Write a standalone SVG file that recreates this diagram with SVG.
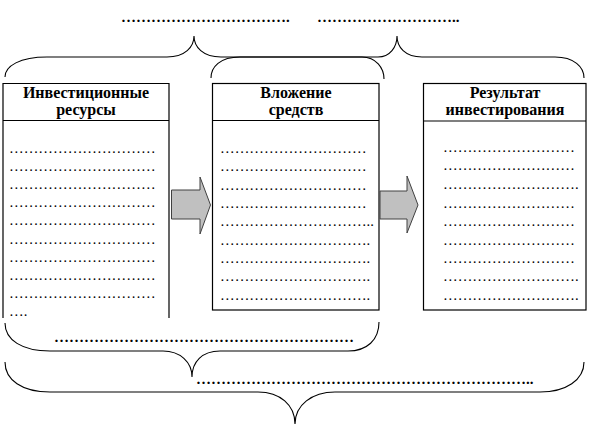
<svg xmlns="http://www.w3.org/2000/svg" width="595" height="424" viewBox="0 0 595 424">
<style>
.box{fill:#fff;stroke:#000;stroke-width:1.2}
.ln{fill:none;stroke:#000;stroke-width:1.2}
.br{fill:none;stroke:#000;stroke-width:1.1}
.hd{font-family:"Liberation Serif","DejaVu Serif",serif;font-weight:bold;font-size:16px;text-anchor:middle;fill:#000}
.dt{font-family:"Liberation Serif","DejaVu Serif",serif;font-size:14.67px;fill:#000}
.bd{font-family:"Liberation Serif","DejaVu Serif",serif;font-size:15px;font-weight:bold;fill:#000}
.ar{fill:#c0c0c0;stroke:#404040;stroke-width:1}
</style>
<rect width="595" height="424" fill="#fff"/>
<g id="node-resources">
<path class="ln" d="M3,318 V83.5 H169 V318 M3,120.5 H169"/>
<text class="hd" x="86" y="98">Инвестиционные</text>
<text class="hd" x="86" y="115">ресурсы</text>
<text class="dt" x="9" y="153">&#8230;&#8230;&#8230;&#8230;&#8230;&#8230;&#8230;&#8230;&#8230;&#8230;</text>
<text class="dt" x="9" y="171">&#8230;&#8230;&#8230;&#8230;&#8230;&#8230;&#8230;&#8230;&#8230;&#8230;</text>
<text class="dt" x="9" y="189">&#8230;&#8230;&#8230;&#8230;&#8230;&#8230;&#8230;&#8230;&#8230;&#8230;</text>
<text class="dt" x="9" y="207">&#8230;&#8230;&#8230;&#8230;&#8230;&#8230;&#8230;&#8230;&#8230;&#8230;</text>
<text class="dt" x="9" y="225">&#8230;&#8230;&#8230;&#8230;&#8230;&#8230;&#8230;&#8230;&#8230;&#8230;</text>
<text class="dt" x="9" y="244">&#8230;&#8230;&#8230;&#8230;&#8230;&#8230;&#8230;&#8230;&#8230;&#8230;</text>
<text class="dt" x="9" y="262">&#8230;&#8230;&#8230;&#8230;&#8230;&#8230;&#8230;&#8230;&#8230;&#8230;</text>
<text class="dt" x="9" y="280">&#8230;&#8230;&#8230;&#8230;&#8230;&#8230;&#8230;&#8230;&#8230;&#8230;</text>
<text class="dt" x="9" y="298">&#8230;&#8230;&#8230;&#8230;&#8230;&#8230;&#8230;&#8230;&#8230;&#8230;</text>
<text class="dt" x="9" y="316">&#8230;.</text>
</g>
<g id="node-investment">
<rect class="box" x="212.5" y="83.5" width="166.5" height="226.5"/>
<line class="ln" x1="212.5" y1="120.5" x2="379" y2="120.5"/>
<text class="hd" x="296" y="98">Вложение</text>
<text class="hd" x="296" y="115">средств</text>
<text class="dt" x="220" y="153">&#8230;&#8230;&#8230;&#8230;&#8230;&#8230;&#8230;&#8230;&#8230;&#8230;</text>
<text class="dt" x="220" y="171">&#8230;&#8230;&#8230;&#8230;&#8230;&#8230;&#8230;&#8230;&#8230;&#8230;</text>
<text class="dt" x="220" y="190">&#8230;&#8230;&#8230;&#8230;&#8230;&#8230;&#8230;&#8230;&#8230;&#8230;</text>
<text class="dt" x="220" y="208">&#8230;&#8230;&#8230;&#8230;&#8230;&#8230;&#8230;&#8230;&#8230;&#8230;</text>
<text class="dt" x="220" y="226">&#8230;&#8230;&#8230;&#8230;&#8230;&#8230;&#8230;&#8230;&#8230;&#8230;..</text>
<text class="dt" x="220" y="245">&#8230;&#8230;&#8230;&#8230;&#8230;&#8230;&#8230;&#8230;&#8230;&#8230;.</text>
<text class="dt" x="220" y="263">&#8230;&#8230;&#8230;&#8230;&#8230;&#8230;&#8230;&#8230;&#8230;&#8230;.</text>
<text class="dt" x="220" y="281">&#8230;&#8230;&#8230;&#8230;&#8230;&#8230;&#8230;&#8230;&#8230;&#8230;.</text>
<text class="dt" x="220" y="300">&#8230;&#8230;&#8230;&#8230;&#8230;&#8230;&#8230;&#8230;&#8230;&#8230;.</text>
</g>
<g id="node-result">
<rect class="box" x="423.5" y="83.5" width="162.5" height="226.5"/>
<line class="ln" x1="423.5" y1="121" x2="586" y2="121"/>
<text class="hd" x="505" y="98">Результат</text>
<text class="hd" x="505" y="115">инвестирования</text>
<text class="dt" x="443" y="152">&#8230;&#8230;&#8230;&#8230;&#8230;&#8230;&#8230;&#8230;&#8230;</text>
<text class="dt" x="443" y="170">&#8230;&#8230;&#8230;&#8230;&#8230;&#8230;&#8230;&#8230;&#8230;</text>
<text class="dt" x="443" y="189">&#8230;&#8230;&#8230;&#8230;&#8230;&#8230;&#8230;&#8230;&#8230;.</text>
<text class="dt" x="443" y="208">&#8230;&#8230;&#8230;&#8230;&#8230;&#8230;&#8230;&#8230;&#8230;</text>
<text class="dt" x="443" y="226">&#8230;&#8230;&#8230;&#8230;&#8230;&#8230;&#8230;&#8230;&#8230;</text>
<text class="dt" x="443" y="245">&#8230;&#8230;&#8230;&#8230;&#8230;&#8230;&#8230;&#8230;&#8230;</text>
<text class="dt" x="443" y="263">&#8230;&#8230;&#8230;&#8230;&#8230;&#8230;&#8230;&#8230;&#8230;</text>
<text class="dt" x="443" y="281">&#8230;&#8230;&#8230;&#8230;&#8230;&#8230;&#8230;&#8230;&#8230;.</text>
<text class="dt" x="443" y="300">&#8230;&#8230;&#8230;&#8230;&#8230;&#8230;&#8230;&#8230;&#8230;.</text>
</g>
<g id="connectors">
<polygon class="ar" points="171.5,190 200,190 200,177 210.5,205 200,234 200,219 171.5,219"/>
<polygon class="ar" points="380,191 407,191 407,176 418,205 407,233 407,219 380,219"/>
<path class="br" d="M5,77 C5,66 20,57 47,57 H167 C185,57 194,47 194,36 C194,47 203,57 221,57 H362 C376,57 384,68 384,79"/>
<path class="br" d="M211,78 C211,67 220,57 240,57 H378 C390,57 397,47 397,36 C397,47 405,57 422,57 H555 C574,57 584,67 584,78"/>
<path class="br" d="M5,323 C5,340 22,351 50,351 H163 C180,351 192,362 192,377 C192,362 202,351 220,351 H348 C367,351 379,340 379,322"/>
<path class="br" d="M5,362 C5,380 22,392 50,392 H258 C280,392 295,405 295,424 C295,405 312,392 335,392 H540 C566,392 584,380 584,362"/>
</g>
<text class="bd" x="121" y="22">&#8230;&#8230;&#8230;&#8230;&#8230;&#8230;&#8230;&#8230;&#8230;&#8230;&#8230;.</text>
<text class="bd" x="317" y="22">&#8230;&#8230;&#8230;&#8230;&#8230;&#8230;&#8230;&#8230;&#8230;..</text>
<text class="bd" x="54" y="342">&#8230;&#8230;&#8230;&#8230;&#8230;&#8230;&#8230;&#8230;&#8230;&#8230;&#8230;&#8230;&#8230;&#8230;&#8230;&#8230;&#8230;&#8230;&#8230;&#8230;</text>
<text class="bd" x="196" y="384">&#8230;&#8230;&#8230;&#8230;&#8230;&#8230;&#8230;&#8230;&#8230;&#8230;&#8230;&#8230;&#8230;&#8230;&#8230;&#8230;&#8230;&#8230;&#8230;&#8230;&#8230;&#8230;..</text>
</svg>
